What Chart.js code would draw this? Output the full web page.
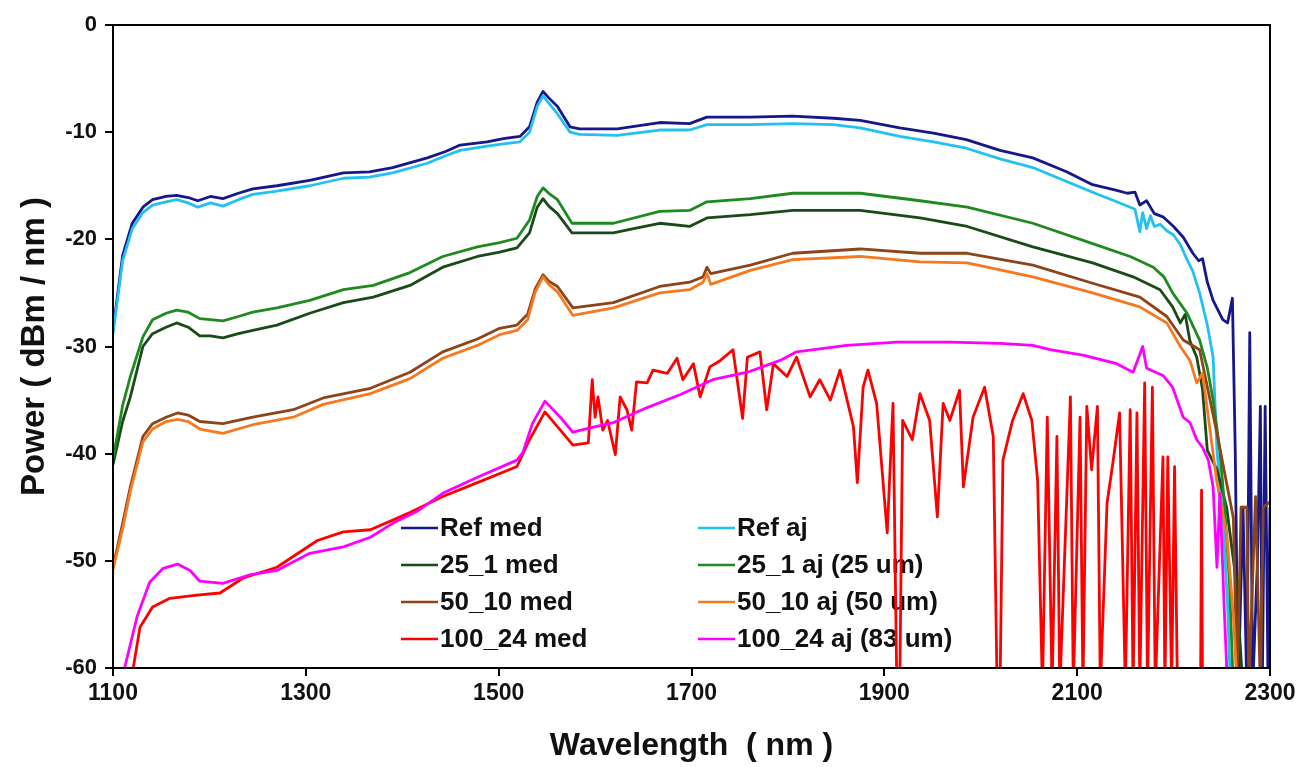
<!DOCTYPE html>
<html>
<head>
<meta charset="utf-8">
<script src="https://cdn.jsdelivr.net/npm/chart.js@4"></script>
<style>
  html, body { margin: 0; padding: 0; background: #fff; }
  #wrap { width: 1310px; height: 767px; position: relative; }
</style>
</head>
<body>
<div id="wrap"><canvas id="spectrum"></canvas></div>
<script>
// wavelength (nm) / power (dBm/nm)
const refMedNm = [1100,1110,1120,1131,1141,1155,1166,1178,1188,1201,1214,1230,1245,1270,1304,1339,1366,1390,1426,1445,1460,1488,1505,1522,1532,1540,1546,1552,1561,1574,1584,1623,1667,1698,1716,1760,1805,1847,1875,1916,1951,1985,2020,2054,2089,2116,2140,2152,2160,2165,2172,2180,2189,2200,2210,2220,2226,2230,2235,2241,2251,2256,2261,2264,2267,2272,2276,2279,2282,2287,2290,2292,2295,2298,2300];
const refMedDb = [-28.5,-21.5,-18.5,-17.0,-16.3,-16.0,-15.9,-16.1,-16.4,-16.0,-16.2,-15.7,-15.3,-15.0,-14.5,-13.8,-13.7,-13.3,-12.4,-11.8,-11.2,-10.9,-10.6,-10.4,-9.5,-7.2,-6.2,-6.8,-7.6,-9.5,-9.7,-9.7,-9.1,-9.2,-8.6,-8.6,-8.5,-8.7,-8.9,-9.6,-10.1,-10.7,-11.7,-12.4,-13.7,-14.9,-15.4,-15.7,-15.6,-16.8,-16.4,-17.6,-17.9,-18.8,-19.8,-21.3,-22.0,-21.8,-24.0,-25.7,-27.5,-27.8,-25.5,-40,-62,-45,-62,-28.7,-62,-50,-35.6,-62,-35.6,-62,-45];

const refAjNm = [1100,1110,1120,1131,1141,1155,1166,1178,1188,1201,1214,1230,1245,1270,1304,1339,1366,1390,1426,1445,1460,1488,1505,1522,1532,1540,1546,1552,1561,1574,1584,1623,1667,1698,1716,1760,1805,1847,1875,1916,1951,1985,2020,2054,2089,2116,2141,2160,2165,2168,2172,2176,2180,2186,2193,2200,2207,2214,2220,2227,2235,2241,2245,2251,2256,2259];
const refAjDb = [-28.8,-22.0,-19.0,-17.5,-16.8,-16.5,-16.3,-16.6,-17.0,-16.6,-16.9,-16.3,-15.8,-15.5,-15.0,-14.3,-14.2,-13.8,-12.9,-12.2,-11.7,-11.3,-11.1,-10.9,-10.0,-7.6,-6.6,-7.3,-8.3,-10.0,-10.2,-10.3,-9.8,-9.8,-9.3,-9.3,-9.2,-9.3,-9.6,-10.4,-10.9,-11.5,-12.5,-13.3,-14.6,-15.6,-16.5,-17.2,-19.3,-17.5,-19.0,-17.8,-18.8,-18.6,-19.2,-19.6,-20.5,-21.9,-23.0,-25.0,-28.0,-31.0,-39.7,-45.9,-54,-62];

const s25MedNm = [1100,1110,1118,1131,1141,1155,1166,1178,1190,1201,1214,1230,1245,1270,1304,1339,1370,1408,1442,1478,1501,1519,1532,1540,1546,1552,1561,1576,1619,1640,1667,1698,1716,1761,1805,1875,1937,1986,2054,2116,2158,2186,2199,2207,2212,2217,2224,2230,2235,2245,2255,2265,2272];
const s25MedDb = [-41.0,-37.0,-34.7,-30.0,-28.8,-28.2,-27.8,-28.2,-29.0,-29.0,-29.2,-28.8,-28.5,-28.0,-26.9,-25.9,-25.4,-24.3,-22.6,-21.6,-21.2,-20.8,-19.4,-17.0,-16.2,-16.9,-17.6,-19.4,-19.4,-19.0,-18.5,-18.8,-18.0,-17.7,-17.3,-17.3,-18.0,-18.8,-20.7,-22.2,-23.5,-24.7,-26.3,-27.8,-27.0,-29.5,-31.0,-34,-39.7,-41.5,-45,-52,-62];

const s25AjNm = [1100,1110,1118,1131,1141,1155,1166,1178,1190,1201,1214,1230,1245,1270,1304,1339,1370,1408,1442,1478,1501,1519,1532,1540,1546,1552,1561,1576,1619,1667,1698,1716,1761,1805,1875,1937,1986,2054,2116,2155,2179,2190,2199,2214,2227,2235,2241,2248,2253,2258,2262];
const s25AjDb = [-40.5,-35.5,-32.8,-29.1,-27.5,-26.9,-26.6,-26.8,-27.4,-27.5,-27.6,-27.2,-26.8,-26.4,-25.7,-24.7,-24.3,-23.1,-21.6,-20.7,-20.3,-19.9,-18.2,-16.0,-15.2,-15.7,-16.3,-18.5,-18.5,-17.4,-17.3,-16.5,-16.2,-15.7,-15.7,-16.4,-17.0,-18.5,-20.4,-21.6,-22.6,-23.5,-25.0,-26.9,-29.4,-32,-35,-39.7,-45,-52,-62];

const s50MedNm = [1100,1110,1118,1131,1141,1155,1167,1178,1190,1214,1245,1287,1318,1367,1408,1442,1478,1501,1519,1530,1538,1546,1552,1561,1577,1619,1667,1698,1712,1716,1720,1761,1805,1875,1937,1986,2054,2116,2165,2193,2210,2227,2245,2262,2266,2270,2276,2278,2285,2290,2293,2300];
const s50MedDb = [-50.6,-46.5,-43.1,-38.4,-37.2,-36.6,-36.2,-36.4,-37.0,-37.2,-36.6,-35.9,-34.8,-33.9,-32.4,-30.5,-29.3,-28.3,-28.0,-27.0,-24.6,-23.3,-23.9,-24.4,-26.4,-25.9,-24.4,-24.0,-23.5,-22.6,-23.2,-22.4,-21.3,-20.9,-21.3,-21.3,-22.4,-24.1,-25.4,-27.2,-29.4,-30.3,-38.1,-46,-62,-45,-45,-62,-44,-62,-45,-44.5];

const s50AjNm = [1100,1110,1118,1131,1141,1155,1167,1178,1190,1214,1245,1287,1318,1367,1408,1442,1478,1501,1519,1530,1538,1546,1552,1561,1577,1619,1667,1698,1712,1716,1720,1761,1805,1875,1937,1986,2054,2116,2165,2193,2207,2217,2224,2230,2245,2255,2262,2266];
const s50AjDb = [-50.8,-47.0,-43.5,-38.9,-37.7,-37.0,-36.8,-37.0,-37.7,-38.1,-37.3,-36.6,-35.4,-34.4,-33.0,-31.1,-29.9,-28.9,-28.5,-27.5,-24.9,-23.5,-24.2,-24.9,-27.1,-26.4,-25.0,-24.7,-24.0,-23.2,-24.2,-22.9,-21.9,-21.6,-22.1,-22.2,-23.5,-25.0,-26.3,-27.8,-30.0,-31.3,-33.4,-32.5,-42.7,-47.4,-55,-62];

const s100MedNm = [1120,1121,1128,1141,1159,1187,1211,1235,1270,1312,1339,1367,1408,1442,1478,1519,1532,1548,1564,1577,1593,1597,1600,1603,1608,1613,1621,1626,1633,1638,1643,1654,1660,1675,1685,1691,1702,1709,1719,1730,1743,1753,1758,1771,1778,1785,1799,1809,1823,1833,1844,1854,1868,1872,1878,1883,1892,1903,1909,1913,1916,1919,1929,1937,1947,1955,1961,1968,1978,1982,1992,2004,2013,2017,2020,2023,2033,2044,2053,2059,2064,2069,2074,2079,2082,2093,2096,2103,2106,2110,2115,2121,2124,2131,2137,2144,2150,2155,2158,2162,2165,2170,2173,2178,2181,2189,2191,2194,2198,2201,2204,2228,2229,2230];
const s100MedDb = [-62,-60,-56.2,-54.3,-53.5,-53.2,-53.0,-51.6,-50.6,-48.1,-47.3,-47.1,-45.5,-44.0,-42.7,-41.2,-38.7,-36.1,-37.8,-39.2,-39.0,-33.1,-36.6,-34.7,-37.8,-36.9,-40.1,-34.7,-35.9,-37.8,-33.3,-33.4,-32.2,-32.5,-31.1,-33.1,-31.6,-34.7,-31.9,-31.3,-30.3,-36.7,-31.0,-30.5,-35.9,-31.6,-32.8,-31.0,-34.7,-33.1,-35.0,-32.2,-37.5,-42.7,-33.8,-32.2,-35.3,-47.4,-35.3,-62,-62,-36.9,-38.7,-34.4,-36.9,-45.9,-35.3,-36.9,-34.1,-43.1,-36.6,-33.8,-38.4,-62,-62,-40.6,-36.9,-34.4,-36.9,-42.5,-62,-36.6,-62,-38.4,-62,-34.7,-62,-36.6,-62,-35.6,-41.5,-35.6,-62,-44.6,-40.9,-36.2,-62,-35.9,-62,-36.2,-62,-33.4,-62,-33.8,-62,-40.3,-62,-40.3,-62,-41.2,-62,-62,-43.4,-62];

const s100AjNm = [1110,1112,1125,1138,1152,1167,1180,1190,1214,1242,1270,1304,1339,1367,1390,1415,1442,1478,1519,1525,1535,1548,1564,1577,1595,1619,1654,1688,1722,1758,1792,1809,1861,1913,1968,2020,2054,2072,2106,2141,2158,2168,2172,2176,2189,2199,2210,2217,2224,2230,2236,2241,2245,2248,2253,2256];
const s100AjDb = [-62,-60,-55.2,-52.0,-50.7,-50.3,-50.9,-51.9,-52.1,-51.3,-50.9,-49.3,-48.7,-47.8,-46.5,-45.4,-43.7,-42.2,-40.6,-39.9,-37.2,-35.1,-36.6,-38.0,-37.6,-37.1,-35.7,-34.5,-33.1,-32.4,-31.3,-30.5,-29.9,-29.6,-29.6,-29.7,-29.9,-30.3,-30.8,-31.6,-32.4,-30.0,-32.0,-32.2,-32.7,-33.8,-36.6,-37.1,-38.7,-39.4,-40.6,-43.1,-50.6,-43.7,-55.5,-62];

const seriesLabels = ['Ref med', 'Ref aj', '25_1 med', '25_1 aj (25 um)', '50_10 med', '50_10 aj (50 um)', '100_24 med', '100_24 aj (83 um)'];
const seriesColors = ['#17178c', '#22c1f1', '#1a4a1a', '#1f8a1f', '#8c4418', '#f7781e', '#ff0000', '#ff00ff'];
const seriesNm = [refMedNm, refAjNm, s25MedNm, s25AjNm, s50MedNm, s50AjNm, s100MedNm, s100AjNm];
const seriesDb = [refMedDb, refAjDb, s25MedDb, s25AjDb, s50MedDb, s50AjDb, s100MedDb, s100AjDb];

const xTickValues = [1100, 1300, 1500, 1700, 1900, 2100, 2300];
const yTickValues = [-60, -50, -40, -30, -20, -10, 0];

const FONT = '"Liberation Sans", Arial, sans-serif';

function toPoints(nm, db) {
  const n = Math.min(nm.length, db.length);
  const pts = [];
  for (let i = 0; i < n; i++) pts.push({ x: nm[i], y: db[i] });
  return pts;
}

const datasets = seriesLabels.map((label, i) => ({
  label: label,
  data: toPoints(seriesNm[i], seriesDb[i]),
  borderColor: seriesColors[i],
  backgroundColor: seriesColors[i],
  borderWidth: 2.8,
  pointRadius: 0,
  tension: 0,
  borderJoinStyle: 'round',
  order: seriesLabels.length - i
}));

// two-column legend inside the plot + box around the plot area
const frameLegend = {
  id: 'frameLegend',
  beforeDatasetsDraw(chart) {
    const ctx = chart.ctx;
    ctx.save();
    ctx.font = 'bold 26px ' + FONT;
    ctx.textBaseline = 'middle';
    ctx.fillStyle = '#111';
    chart.data.datasets.forEach((ds, i) => {
      const x = (i % 2 === 0) ? 401 : 698;
      const y = 528 + Math.floor(i / 2) * 37;
      ctx.strokeStyle = ds.borderColor;
      ctx.lineWidth = 2.5;
      ctx.beginPath();
      ctx.moveTo(x, y);
      ctx.lineTo(x + 37, y);
      ctx.stroke();
      ctx.fillText(ds.label, x + 39, y + 1);
    });
    ctx.restore();
  },
  afterDraw(chart) {
    const { left, top, right, bottom } = chart.chartArea;
    const ctx = chart.ctx;
    ctx.save();
    ctx.strokeStyle = '#000';
    ctx.lineWidth = 2;
    ctx.strokeRect(left, top, right - left, bottom - top);
    ctx.restore();
  }
};

new Chart(document.getElementById('spectrum'), {
  type: 'line',
  data: { datasets: datasets },
  options: {
    responsive: true,
    maintainAspectRatio: false,
    animation: false,
    layout: { padding: { top: 25, right: 40, bottom: 0, left: 0 } },
    plugins: {
      legend: { display: false },
      tooltip: { enabled: false }
    },
    scales: {
      x: {
        type: 'linear',
        min: 1100,
        max: 2300,
        afterBuildTicks: s => { s.ticks = xTickValues.map(v => ({ value: v })); },
        afterFit: s => { s.height = 99; },
        ticks: {
          color: '#111',
          padding: 4,
          font: { family: FONT, size: 23, weight: 'bold' },
          callback: v => String(v)
        },
        grid: { display: true, drawOnChartArea: false, drawTicks: true, tickLength: 8, color: '#000', lineWidth: 2 },
        border: { display: true, color: '#000', width: 2 },
        title: {
          display: true,
          text: 'Wavelength  ( nm )',
          color: '#111',
          font: { family: FONT, size: 32, weight: 'bold' },
          padding: { top: 0, bottom: 2 }
        }
      },
      y: {
        type: 'linear',
        min: -60,
        max: 0,
        afterBuildTicks: s => { s.ticks = yTickValues.map(v => ({ value: v })); },
        afterFit: s => { s.width = 113; },
        ticks: {
          color: '#111',
          padding: 8,
          font: { family: FONT, size: 22, weight: 'bold' },
          callback: v => String(v)
        },
        grid: { display: true, drawOnChartArea: false, drawTicks: true, tickLength: 8, color: '#000', lineWidth: 2 },
        border: { display: true, color: '#000', width: 2 },
        title: {
          display: true,
          text: 'Power ( dBm / nm )',
          color: '#111',
          font: { family: FONT, size: 33, weight: 'bold' },
          padding: { top: 15, bottom: 0 }
        }
      }
    }
  },
  plugins: [frameLegend]
});
</script>
</body>
</html>
